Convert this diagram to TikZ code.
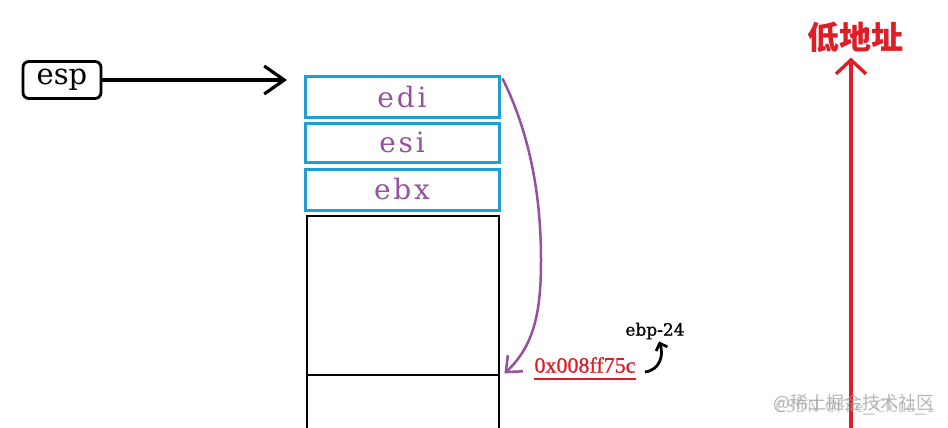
\documentclass[tikz,border=0pt]{standalone}
\usepackage{fontspec}
\setmainfont{DejaVu Serif}
\newfontfamily\timesf{Liberation Serif}
\newfontfamily\cjk{Noto Sans CJK SC}
\usetikzlibrary{arrows.meta}
\definecolor{boxblue}{RGB}{30,160,210}
\definecolor{regpurple}{RGB}{150,80,160}
\definecolor{addrred}{RGB}{220,30,40}
\definecolor{wmgray}{RGB}{150,150,150}
\tikzset{
  regbox/.style={draw=boxblue, line width=3pt, minimum width=194pt, inner sep=0pt,
     text=regpurple, font=\fontsize{28}{28}\selectfont\addfontfeatures{LetterSpace=10}},
  slotbox/.style={draw=black, line width=2.8pt, minimum width=192pt, inner sep=0pt},
}
\begin{document}
\begin{tikzpicture}[x=1pt,y=-1pt]
\useasboundingbox (0,0) rectangle (948,428);
% esp label
\node[draw, line width=2.8pt, rounded corners=6pt, minimum width=78pt, minimum height=37pt, inner sep=0pt,
      font=\fontsize{29}{29}\selectfont] (esp) at (62,80) {esp};
\coordinate (esptip) at (287,80);
\draw[line width=3.2pt, -{Straight Barb[length=20pt,width=28pt]}] (esp.east) -- (esptip);
% register boxes
\node[regbox, minimum height=40pt] (edi) at (402,97) {edi};
\node[regbox, minimum height=39pt] (esi) at (402,142.5) {esi};
\node[regbox, minimum height=41pt] (ebx) at (402,189.5) {ebx};
% stack slots
\node[slotbox, minimum height=159pt] (slota) at (403,295.5) {};
\node[slotbox, minimum height=80pt] (slotb) at (403,415) {};
% purple curve
\draw[regpurple, line width=2.5pt, -{Straight Barb[length=13pt,width=22pt]}]
  ([xshift=2pt,yshift=-3pt]edi.north east) .. controls (528,130) and (541,190) .. (541,260)
  .. controls (541,310) and (535,345) .. ([xshift=4pt,yshift=3pt]slota.south east);
% address
\node[text=addrred, font=\timesf\fontsize{22}{22}\selectfont\addfontfeatures{FakeBold=1}, inner sep=0pt] (addr) at (585,365) {0x008ff75c};
\draw[addrred, line width=2.6pt] ([yshift=-6pt]addr.south west) -- ([yshift=-6pt]addr.south east);
% ebp-24
\node[font=\fontsize{17}{17}\selectfont\addfontfeatures{FakeBold=1}, inner sep=0pt] (ebp) at (655,331) {ebp-24};
\coordinate (hook) at (645,372);
\draw[line width=2.8pt, -{Straight Barb[length=6pt,width=12pt]}]
  (hook) .. controls (660,370) and (664,355) .. ([xshift=4pt,yshift=-2pt]ebp.south);
% low address arrow
\node[text=addrred, font=\cjk\bfseries\fontsize{32}{32}\selectfont, inner sep=0pt] (low) at (855,37) {低地址};
\coordinate (rbot) at (851,430);
\draw[addrred, line width=3.4pt, -{Straight Barb[length=14pt,width=30pt]}] (rbot) -- ([yshift=-5pt]low.south -| rbot);
% watermark
\node[text=wmgray, font=\cjk\fontsize{18}{18}\selectfont, inner sep=0pt, opacity=0.7] (wm1) at (854,403) {@稀土掘金技术社区};
\node[text=wmgray, font=\sffamily\fontsize{18}{18}\selectfont, inner sep=0pt, opacity=0.5] (wm2) at (855,408) {CSDN @Fire\_Cloud\_1};
\end{tikzpicture}
\end{document}
